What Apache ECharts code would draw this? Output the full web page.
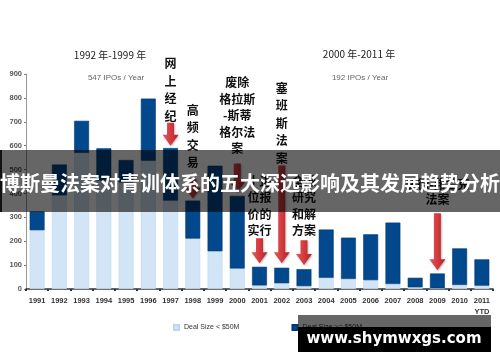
<!DOCTYPE html>
<html><head><meta charset="utf-8">
<script src="https://cdn.jsdelivr.net/npm/echarts@6/dist/echarts.min.js"></script>
<style>html,body{margin:0;padding:0;background:#fff}#c{width:500px;height:362px}</style>
</head><body><div id="c"></div>
<script>
const years = ['1991','1992','1993','1994','1995','1996','1997','1998','1999','2000','2001','2002','2003','2004','2005','2006','2007','2008','2009','2010','2011'];
const xTickLabels = ['1991','1992','1993','1994','1995','1996','1997','1998','1999','2000','2001','2002','2003','2004','2005','2006','2007','2008','2009','2010','2011\nYTD'];
const smallDeals = [246,392,570,454,446,537,370,211,158,86,15,24,12,47,42,37,21,7,3,17,14];
const largeDeals = [79,129,134,135,94,260,220,159,358,304,78,65,71,202,173,192,257,40,62,153,110];
const yTicks = [0,100,200,300,400,500,600,700,800,900];
const seriesNames = ['Deal Size < $50M','Deal Size >= $50M'];
const periodTitles = ['1992 年-1999 年','2000 年-2011 年'];
const periodAverages = ['547 IPOs / Year','192 IPOs / Year'];
const bannerTitle = '博斯曼法案对青训体系的五大深远影响及其发展趋势分析';
const watermark = 'www.shymwxgs.com';
// annotation arrows: category, start value, tip value
const arrowCats = ['1997','1998','2000','2001','2002','2003','2009'];
const arrowFrom = [696,462,525,212,517,204,317];
const arrowTo = [600,379,404,108,108,100,79];
// annotation texts: category, top value, text
const noteCats = ['1997','1998','2000','2002','2001','2003','2009'];
const noteTops = [980,785,898,878,485,485,468];
const noteTexts = ['网\n上\n经\n纪','高\n频\n交\n易','废除\n格拉斯\n-斯蒂\n格尔法\n案','塞\n班\n斯\n法\n案','十进\n位报\n价的\n实行','全球\n研究\n和解\n方案','多德-弗兰克\n法案'];
const noteLineHeights = [17.5,17.5,16.5,17.5,16.5,16.5,15];

const chart = echarts.init(document.getElementById('c'), null, {renderer:'canvas'});
const arrowData = arrowCats.map((c,i)=>[years.indexOf(c), arrowFrom[i], arrowTo[i]]);
const noteData = noteCats.map((c,i)=>[years.indexOf(c), noteTops[i], i]);

chart.setOption({
  animation:false,
  backgroundColor:'#fff',
  grid:{left:26,right:7,top:74,bottom:73},
  legend:{
    data:seriesNames, left:168, top:319, itemWidth:5, itemHeight:5, itemGap:52,
    icon:'rect',
    textStyle:{fontSize:7,color:'#333',fontFamily:'Liberation Sans, Arial'}
  },
  xAxis:{
    type:'category', data:years,
    axisLine:{lineStyle:{color:'#333',width:1.5}},
    axisTick:{show:true,length:2,lineStyle:{color:'#333',width:2}},
    axisLabel:{
      formatter:(v,i)=>xTickLabels[i], fontSize:7.5, fontWeight:'bold', color:'#333',
      fontFamily:'Liberation Sans, Arial', margin:6, lineHeight:11, interval:0,
      align:'center'
    }
  },
  yAxis:{
    type:'value', min:0, max:900, interval:100,
    axisLine:{show:true,lineStyle:{color:'#999',width:1}},
    axisTick:{show:true,length:2,lineStyle:{color:'#777'}},
    splitLine:{show:false},
    axisLabel:{formatter:v=>yTicks.includes(v)?String(v):'',fontSize:7.5,fontWeight:'bold',color:'#555',fontFamily:'Liberation Sans, Arial',margin:4}
  },
  series:[
    {name:seriesNames[0],type:'bar',stack:'t',data:smallDeals,barWidth:'67%',
     itemStyle:{color:'#d2e5f6',borderColor:'#bcd6ee',borderWidth:0.6}},
    {name:seriesNames[1],type:'bar',stack:'t',data:largeDeals,barWidth:'67%',
     itemStyle:{color:'#02488c',borderColor:'#013a73',borderWidth:0.6}},
    {type:'custom', data:arrowData, z:5, silent:true, clip:false,
     renderItem:(params,api)=>{
       const s = api.coord([api.value(0), api.value(1)]);
       const e = api.coord([api.value(0), api.value(2)]);
       const x = s[0], y0 = s[1], y1 = e[1];
       const sw = 3.5, hw = 8, hl = 11;
       const pts = [[x-sw,y0],[x+sw,y0],[x+sw,y1-hl],[x+hw,y1-hl],[x,y1],[x-hw,y1-hl],[x-sw,y1-hl]];
       return {type:'polygon', shape:{points:pts},
         style:{fill:new echarts.graphic.LinearGradient(0,0,1,0,[{offset:0,color:'#e0595c'},{offset:0.5,color:'#d53a3e'},{offset:1,color:'#a8262a'}]),
                shadowBlur:2, shadowColor:'rgba(0,0,0,0.25)', shadowOffsetX:1, shadowOffsetY:1}};
     }},
    {type:'custom', data:noteData, z:6, silent:true, clip:false,
     renderItem:(params,api)=>{
       const p = api.coord([api.value(0), api.value(1)]);
       const i = api.value(2);
       return {type:'text', x:p[0], y:p[1],
         style:{text:noteTexts[i], fill:'#111', font:'bold 12px "Noto Sans CJK SC"', lineHeight:noteLineHeights[i],
                align:'center', verticalAlign:'top'}};
     }}
  ],
  graphic:[
    {type:'text', style:{text:periodTitles[0],x:110,y:55,fill:'#222',font:'10px "Noto Sans CJK SC"',align:'center',verticalAlign:'middle'}},
    {type:'text', style:{text:periodAverages[0],x:116,y:78,fill:'#666',font:'8px "Liberation Sans", Arial',align:'center',verticalAlign:'middle'}},
    {type:'text', style:{text:periodTitles[1],x:359,y:54,fill:'#222',font:'10px "Noto Sans CJK SC"',align:'center',verticalAlign:'middle'}},
    {type:'text', style:{text:periodAverages[1],x:360,y:78,fill:'#666',font:'8px "Liberation Sans", Arial',align:'center',verticalAlign:'middle'}},
    {type:'rect', z:100, shape:{x:0,y:150,width:500,height:62}, style:{fill:'rgba(0,0,0,0.6)'}},
    {type:'rect', z:100, shape:{x:0,y:150,width:2,height:62}, style:{fill:'#111'}},
    {type:'text', z:101, style:{text:bannerTitle,x:250,y:183,fill:'#fff',font:'bold 20px "Noto Sans CJK SC"',align:'center',verticalAlign:'middle'}},
    {type:'rect', z:100, shape:{x:298,y:315,width:193,height:12}, style:{fill:'rgba(0,0,0,0.6)'}},
    {type:'rect', z:100, shape:{x:298,y:327,width:193,height:25}, style:{fill:'#000'}},
    {type:'text', z:101, style:{text:watermark,x:394,y:339,fill:'#fff',font:'bold 15px "DejaVu Sans"',align:'center',verticalAlign:'middle'}}
  ]
});
</script></body></html>
